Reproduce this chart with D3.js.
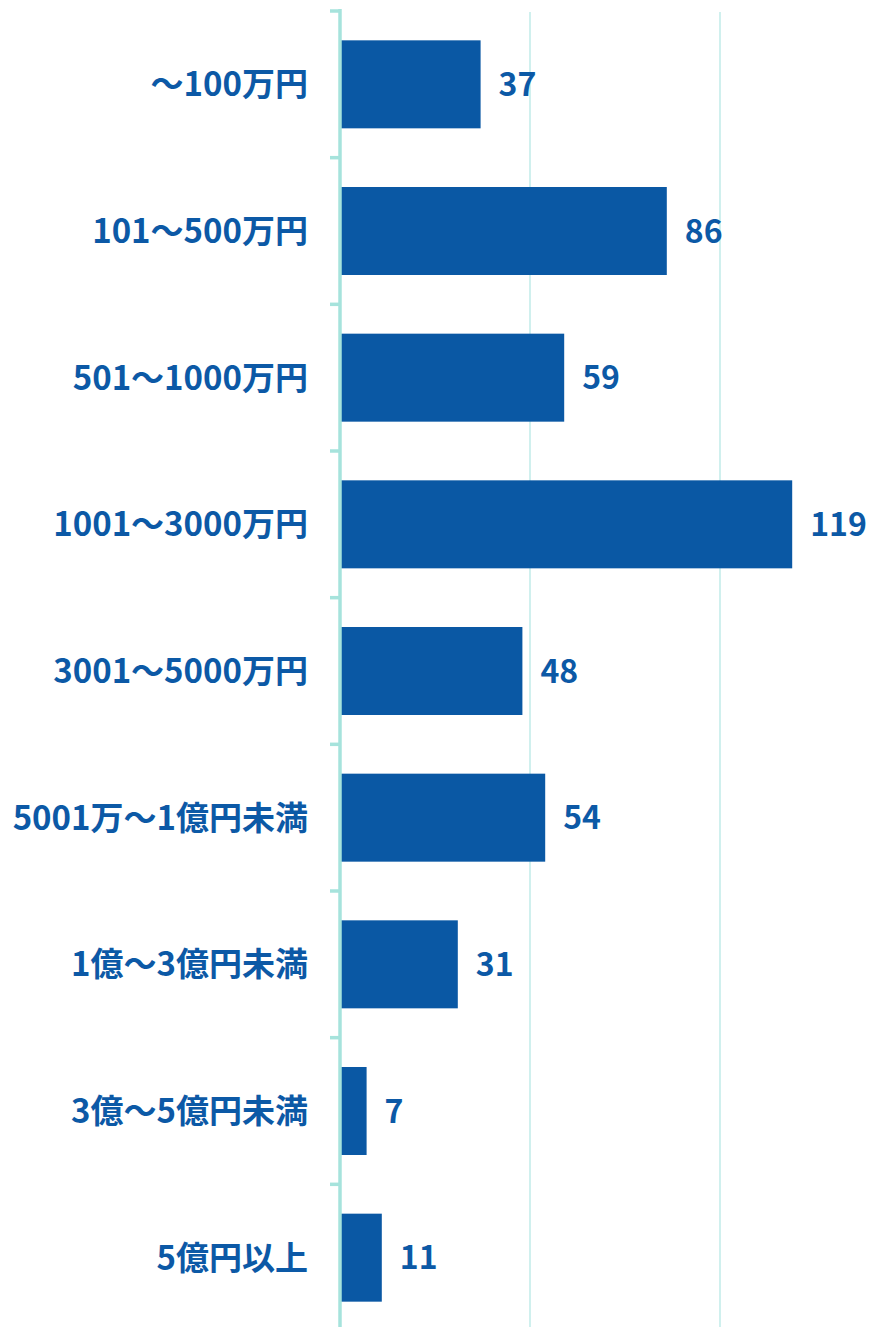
<!DOCTYPE html>
<html lang="ja">
<head>
<meta charset="utf-8">
<script src="https://cdn.jsdelivr.net/npm/d3@7"></script>
<style>
  html, body { margin: 0; padding: 0; background: #ffffff; }
  svg { display: block; }
  text { font-family: "Noto Sans CJK JP", "Noto Sans", sans-serif; font-weight: 700; }
</style>
</head>
<body>
<script>
// Capital size brackets and number of companies in each
const categories = [
  "～100万円",
  "101～500万円",
  "501～1000万円",
  "1001～3000万円",
  "3001～5000万円",
  "5001万～1億円未満",
  "1億～3億円未満",
  "3億～5億円未満",
  "5億円以上"
];
const counts = [37, 86, 59, 119, 48, 54, 31, 7, 11];
const gridValues = [50, 100];

const width = 894, height = 1327;
const barColor = "#0a58a4";
const textColor = "#0c59a6";
const axisColor = "#a6e3dc";
const gridColor = "#d0f0ee";

const svg = d3.select("body").append("svg")
  .attr("width", width)
  .attr("height", height);

const x = d3.scaleLinear().domain([0, 150]).range([340, 910]);
const y = d3.scaleBand().domain(categories).range([11, 1331])
  .paddingInner(0.4).paddingOuter(0.2);

// vertical gridlines
svg.append("g").selectAll("line")
  .data(gridValues)
  .join("line")
  .attr("x1", d => x(d)).attr("x2", d => x(d))
  .attr("y1", y.range()[0] + 1).attr("y2", height)
  .attr("stroke", gridColor)
  .attr("stroke-width", 2);

// bars
svg.append("g").selectAll("rect")
  .data(counts)
  .join("rect")
  .attr("x", x(0))
  .attr("y", (d, i) => y(categories[i]))
  .attr("width", d => x(d) - x(0))
  .attr("height", y.bandwidth())
  .attr("fill", barColor);

// value labels
svg.append("g").selectAll("text")
  .data(counts)
  .join("text")
  .attr("x", d => x(d) + 18)
  .attr("y", (d, i) => y(categories[i]) + y.bandwidth() / 2)
  .attr("dy", "0.36em")
  .attr("fill", textColor)
  .attr("font-size", 32)
  .text(d => d);

// category axis: line plus ticks at band boundaries
const axis = svg.append("g");
const boundaries = d3.range(categories.length + 1).map(i => y.range()[0] + i * y.step());
axis.append("line")
  .attr("x1", x(0)).attr("x2", x(0))
  .attr("y1", y.range()[0] - 2).attr("y2", height)
  .attr("stroke", axisColor)
  .attr("stroke-width", 3.5);
axis.selectAll("line.tick")
  .data(boundaries)
  .join("line")
  .attr("class", "tick")
  .attr("x1", x(0) - 10).attr("x2", x(0))
  .attr("y1", d => d).attr("y2", d => d)
  .attr("stroke", axisColor)
  .attr("stroke-width", 3.5);

axis.selectAll("text")
  .data(categories)
  .join("text")
  .attr("x", x(0) - 32)
  .attr("y", d => y(d) + y.bandwidth() / 2)
  .attr("dy", "0.36em")
  .attr("text-anchor", "end")
  .attr("fill", textColor)
  .attr("font-size", 33)
  .text(d => d);
</script>
</body>
</html>
